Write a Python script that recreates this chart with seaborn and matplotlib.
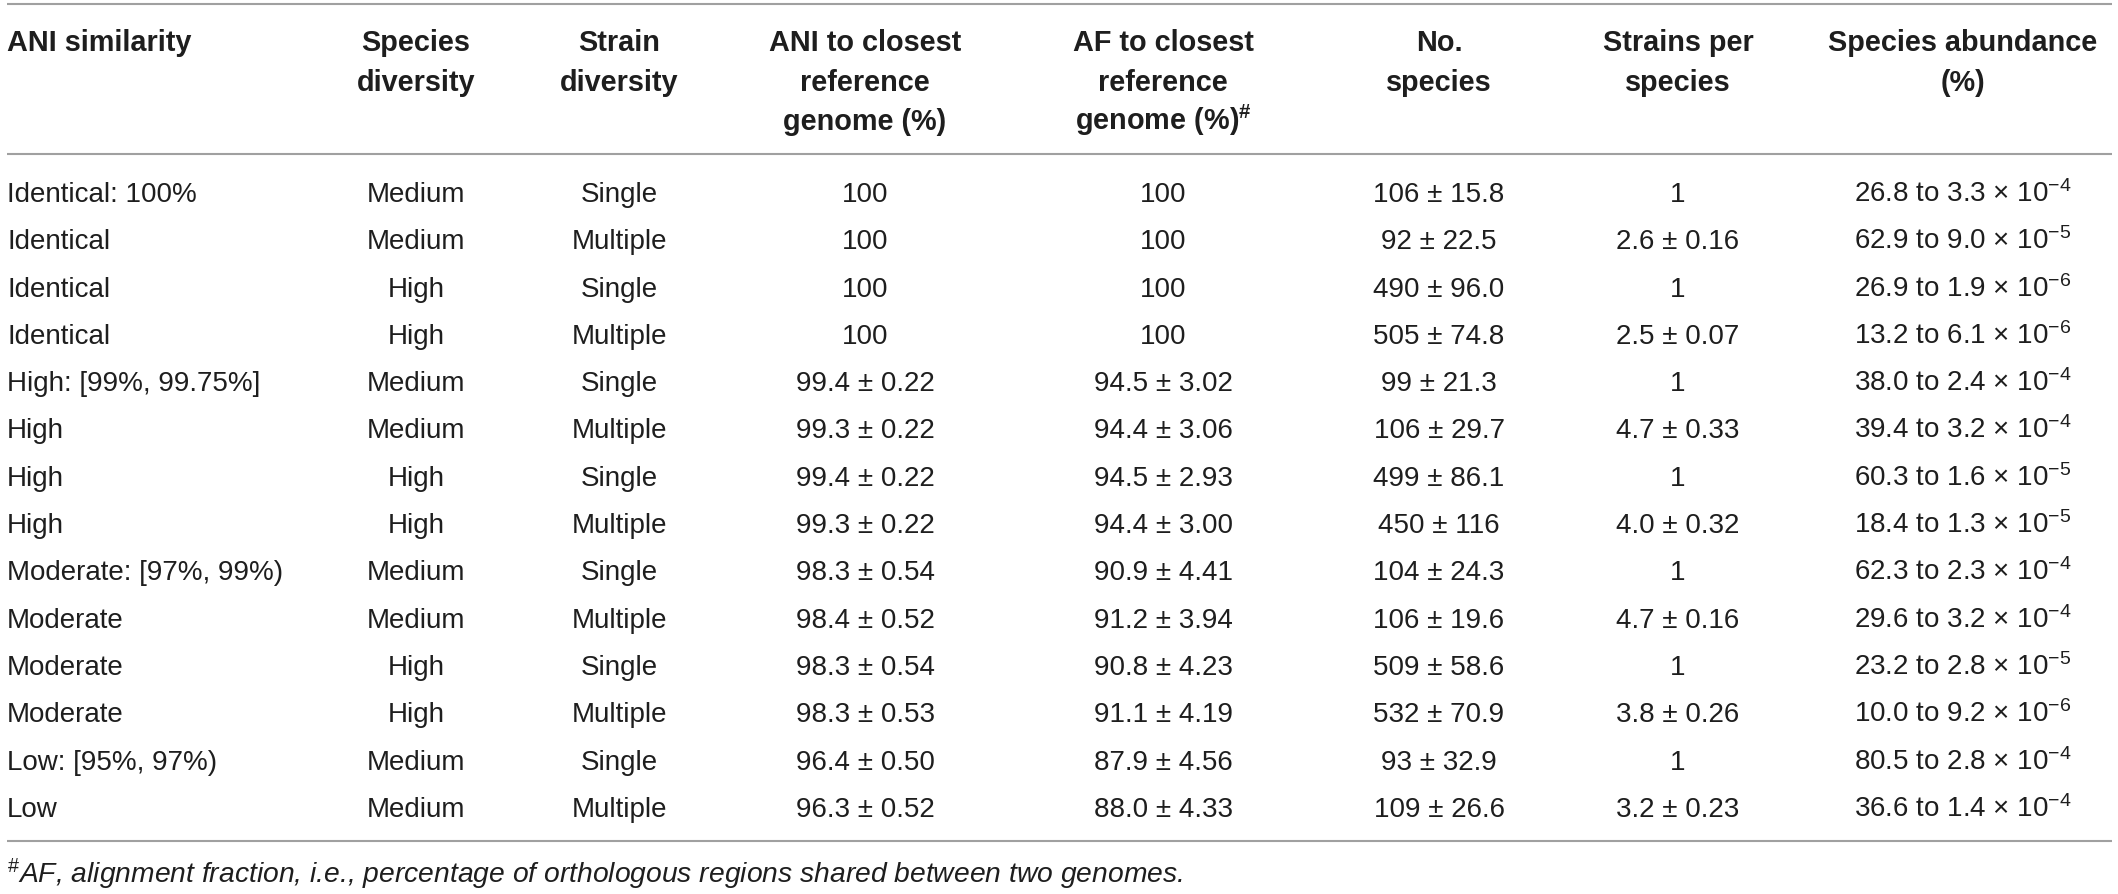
import matplotlib
matplotlib.use("Agg")
import matplotlib.pyplot as plt
import seaborn as sns

# ---- table data ----
ani_similarity = ["Identical: 100%", "Identical", "Identical", "Identical",
                  "High: [99%, 99.75%]", "High", "High", "High",
                  "Moderate: [97%, 99%)", "Moderate", "Moderate", "Moderate",
                  "Low: [95%, 97%)", "Low"]
species_diversity = ["Medium", "Medium", "High", "High",
                     "Medium", "Medium", "High", "High",
                     "Medium", "Medium", "High", "High",
                     "Medium", "Medium"]
strain_diversity = ["Single", "Multiple"] * 7
ani_mean = ["100", "100", "100", "100", "99.4", "99.3", "99.4", "99.3",
            "98.3", "98.4", "98.3", "98.3", "96.4", "96.3"]
ani_sd = [None, None, None, None, "0.22", "0.22", "0.22", "0.22",
          "0.54", "0.52", "0.54", "0.53", "0.50", "0.52"]
af_mean = ["100", "100", "100", "100", "94.5", "94.4", "94.5", "94.4",
           "90.9", "91.2", "90.8", "91.1", "87.9", "88.0"]
af_sd = [None, None, None, None, "3.02", "3.06", "2.93", "3.00",
         "4.41", "3.94", "4.23", "4.19", "4.56", "4.33"]
n_species = ["106", "92", "490", "505", "99", "106", "499", "450",
             "104", "106", "509", "532", "93", "109"]
n_species_sd = ["15.8", "22.5", "96.0", "74.8", "21.3", "29.7", "86.1", "116",
                "24.3", "19.6", "58.6", "70.9", "32.9", "26.6"]
strains_per = ["1", "2.6", "1", "2.5", "1", "4.7", "1", "4.0",
               "1", "4.7", "1", "3.8", "1", "3.2"]
strains_sd = [None, "0.16", None, "0.07", None, "0.33", None, "0.32",
              None, "0.16", None, "0.26", None, "0.23"]
abund_max = ["26.8", "62.9", "26.9", "13.2", "38.0", "39.4", "60.3", "18.4",
             "62.3", "29.6", "23.2", "10.0", "80.5", "36.6"]
abund_min = ["3.3", "9.0", "1.9", "6.1", "2.4", "3.2", "1.6", "1.3",
             "2.3", "3.2", "2.8", "9.2", "2.8", "1.4"]
abund_exp = [-4, -5, -6, -6, -4, -4, -5, -5, -4, -4, -5, -6, -4, -4]

headers = [["ANI similarity"],
           ["Species", "diversity"],
           ["Strain", "diversity"],
           ["ANI to closest", "reference", "genome (%)"],
           ["AF to closest", "reference", r"genome (%)$^{\mathbf{\#}}$"],
           ["No.", "species"],
           ["Strains per", "species"],
           ["Species abundance", "(%)"]]
footnote = r"$^{\#}$AF, alignment fraction, i.e., percentage of orthologous regions shared between two genomes."


def pm(mean, sd):
    return mean if sd is None else f"{mean} \u00b1 {sd}"


columns = [
    ani_similarity,
    species_diversity,
    strain_diversity,
    [pm(m, s) for m, s in zip(ani_mean, ani_sd)],
    [pm(m, s) for m, s in zip(af_mean, af_sd)],
    [pm(m, s) for m, s in zip(n_species, n_species_sd)],
    [pm(m, s) for m, s in zip(strains_per, strains_sd)],
    [f"{hi} to {lo} $\\times$ 10$^{{{e}}}$" for hi, lo, e in zip(abund_max, abund_min, abund_exp)],
]

# ---- layout (pixel space) ----
W, H = 2118, 895
col_x = [7, 416, 619, 865, 1163, 1439, 1678, 1963]
col_ha = ["left"] + ["center"] * 7
row_base0, row_step = 202, 47.3
head_base0, head_step = 51, 39.5
line_x0, line_x1 = 7, 2112
text_color = "#1e1e1e"
rule_color = "#a0a0a0"

sns.set_theme(style="white")
plt.rcParams["font.family"] = ["Liberation Sans", "DejaVu Sans"]
plt.rcParams["mathtext.fontset"] = "custom"
plt.rcParams["mathtext.rm"] = "Liberation Sans"
plt.rcParams["mathtext.it"] = "Liberation Sans:italic"
plt.rcParams["mathtext.bf"] = "Liberation Sans:bold"

fig = plt.figure(figsize=(W / 100, H / 100), dpi=100)
ax = fig.add_axes([0, 0, 1, 1])
ax.set_xlim(0, W)
ax.set_ylim(H, 0)
ax.axis("off")

# rules
for y in (5, 155, 842):
    ax.plot([line_x0, line_x1], [y, y], color=rule_color, lw=1.5, solid_capstyle="butt")

# header
for x, ha, lines in zip(col_x, col_ha, headers):
    for i, t in enumerate(lines):
        ax.text(x, head_base0 + i * head_step, t, ha=ha, va="baseline",
                fontsize=20.8, fontweight="bold", color=text_color)

# body
for x, ha, values in zip(col_x, col_ha, columns):
    for i, t in enumerate(values):
        ax.text(x, row_base0 + i * row_step, t, ha=ha, va="baseline",
                fontsize=20, color=text_color)

ax.text(7, 883, footnote, ha="left", va="baseline", fontsize=20.3,
        fontstyle="italic", color=text_color)

fig.savefig("out.png", dpi=100)
